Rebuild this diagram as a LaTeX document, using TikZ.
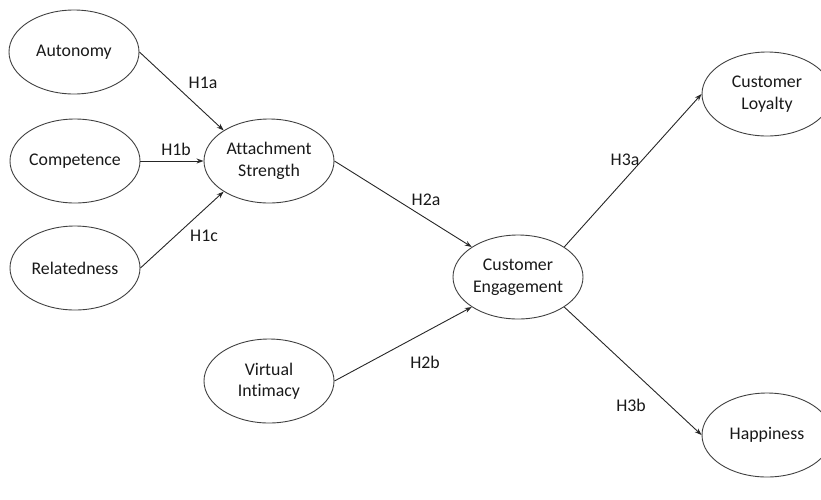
\documentclass[tikz,border=0pt]{standalone}
\usepackage{fontspec}
\setmainfont{Carlito}[Ligatures=NoCommon]
\usetikzlibrary{arrows.meta,shapes.geometric}
\begin{document}
\begin{tikzpicture}[x=1pt,y=-1pt,
  var/.style={ellipse,draw=black!75,line width=0.9pt,minimum width=130pt,minimum height=84pt,inner sep=0pt,align=center,font=\fontsize{17.8}{21.5}\selectfont,text=black!90},
  path/.style={draw=black!85,line width=0.9pt,-{Stealth[length=7pt,width=5pt]}},
  hyp/.style={font=\fontsize{17.8}{21.5}\selectfont,text=black!90}]
\useasboundingbox (0,0) rectangle (821,499);
\node[var] (aut) at (74,52) {Autonomy};
\node[var] (com) at (75,161) {Competence};
\node[var] (rel) at (75,268) {Relatedness};
\node[var] (att) at (269,161) {Attachment\\Strength};
\node[var] (vi) at (269,381) {Virtual\\Intimacy};
\node[var] (ce) at (518,277) {Customer\\Engagement};
\node[var] (loy) at (767,94) {Customer\\Loyalty};
\node[var] (hap) at (767,435) {Happiness};
\draw[path] (aut.east) -- (att.146);
\draw[path] (com.east) -- (att.west);
\draw[path] (rel.east) -- (att.214);
\draw[path] (att.east) -- (ce.147);
\draw[path] (vi.east) -- (ce.213);
\draw[path] (ce.33) -- (loy.west);
\draw[path] (ce.-33) -- (hap.west);
\node[hyp] (h1a) at (203,83) {H1a};
\node[hyp] (h1b) at (176,149) {H1b};
\node[hyp] (h1c) at (204,236) {H1c};
\node[hyp] (h2a) at (426,200) {H2a};
\node[hyp] (h2b) at (425,362) {H2b};
\node[hyp] (h3a) at (625,160) {H3a};
\node[hyp] (h3b) at (631,405) {H3b};
\end{tikzpicture}
\end{document}
